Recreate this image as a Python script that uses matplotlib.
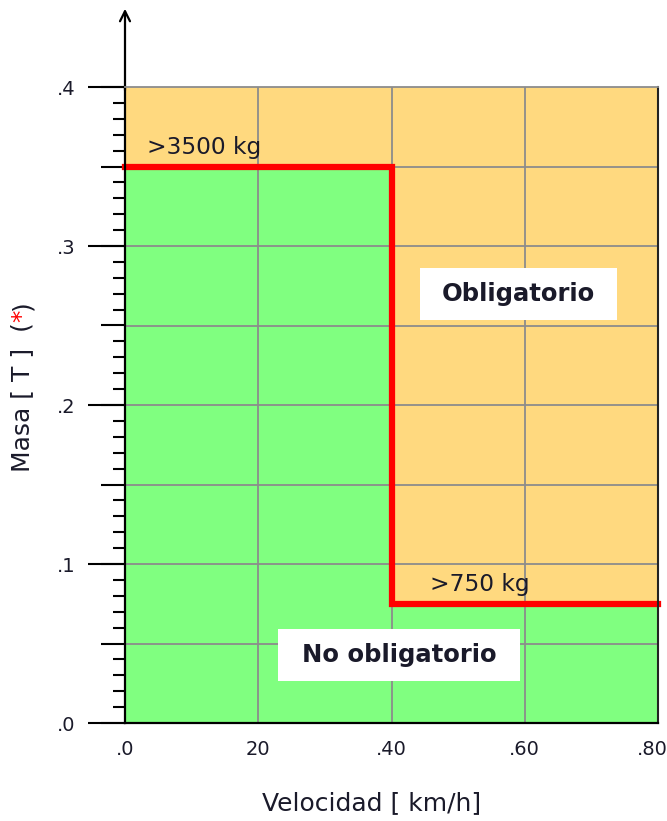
import numpy as np
import matplotlib.pyplot as plt
from matplotlib.patches import Rectangle
from matplotlib.transforms import ScaledTranslation
from matplotlib.ticker import FixedLocator, MultipleLocator, NullFormatter

# data
speed_edges = [0, 40, 80]          # km/h
mass_limit = [0.35, 0.075]         # T, limit above which it is mandatory
limit_labels = [">3500 kg", ">750 kg"]
x_ticks = [0, 20, 40, 60, 80]
x_ticklabels = [".0", "20", ".40", ".60", ".80"]
y_ticks = [0.0, 0.1, 0.2, 0.3, 0.4]
y_ticklabels = [".0", ".1", ".2", ".3", ".4"]

green = "#80ff80"
orange = "#ffd97f"
txt = "#1a1a2a"

fig = plt.figure(figsize=(6.67, 8.21), dpi=100)
ax = fig.add_axes([125 / 667, 98 / 821, 533 / 667, 636 / 821])
ax.set_xlim(0, 80)
ax.set_ylim(0, 0.4)

# step curve built from the edges
x_step = speed_edges
y_step = mass_limit + [mass_limit[-1]]
ax.fill_between(x_step, 0, y_step, step="post", color=green, lw=0, zorder=0)
ax.fill_between(x_step, y_step, 0.4, step="post", color=orange, lw=0, zorder=0)

# grid
for gx in x_ticks[1:-1]:
    ax.axvline(gx, color="#8c8c8c", lw=1.3, zorder=1)
for gy in np.arange(0.05, 0.4, 0.05):
    ax.axhline(gy, color="#8c8c8c", lw=1.3, zorder=1)

ax.step(x_step, y_step, where="post", color="red", lw=4.5, zorder=3,
        solid_joinstyle="miter", clip_on=False)

ax.text(3.3, mass_limit[0] + 0.005, limit_labels[0], fontsize=16.8, color=txt,
        va="bottom", ha="left")
ax.text(45.8, mass_limit[1] + 0.005, limit_labels[1], fontsize=16.8, color=txt,
        va="bottom", ha="left")

t_obl = ax.text(59.1, 0.270, "Obligatorio", fontsize=17.5, fontweight="bold",
                color=txt, ha="center", va="center", zorder=5)
t_no = ax.text(41.1, 0.043, "No obligatorio", fontsize=17.5, fontweight="bold",
               color=txt, ha="center", va="center", zorder=5)

# spines
for s in ["left", "bottom"]:
    ax.spines[s].set_linewidth(1.6)
    ax.spines[s].set_color("black")
ax.spines["right"].set_linewidth(1.5)
ax.spines["right"].set_color("#222222")
ax.spines["top"].set_linewidth(1.3)
ax.spines["top"].set_color("#8c8c8c")
for s in ax.spines.values():
    s.set_zorder(5)

# x axis: labels only
ax.set_xticks(x_ticks)
ax.set_xticklabels(x_ticklabels, fontsize=14, color=txt)
ax.tick_params(axis="x", length=0, pad=12)
last = ax.get_xticklabels()[-1]
last.set_transform(last.get_transform() + ScaledTranslation(-4 / 72, 0, fig.dpi_scale_trans))

# y axis: half steps and minor steps on the main axis
ax.yaxis.set_major_locator(MultipleLocator(0.05))
ax.yaxis.set_minor_locator(MultipleLocator(0.01))
ax.yaxis.set_major_formatter(NullFormatter())
ax.tick_params(axis="y", which="major", length=17, width=1.5, color="black")
ax.tick_params(axis="y", which="minor", length=8.5, width=1.5, color="black")

sec = ax.secondary_yaxis("left")
sec.set_yticks(y_ticks)
sec.set_yticklabels(y_ticklabels, fontsize=14, color=txt)
sec.yaxis.set_minor_locator(FixedLocator([]))
sec.tick_params(axis="y", length=26.5, width=1.5, color="black", pad=9)
sec.spines["left"].set_visible(False)

# arrow on top of the y axis
ax.annotate("", xy=(0, 1.123), xytext=(0, 0.995), xycoords="axes fraction",
            arrowprops=dict(arrowstyle="->", lw=1.6, color="black",
                            mutation_scale=18, shrinkA=0, shrinkB=0),
            annotation_clip=False)

fig.text(372 / 667, 1 - 803 / 821, "Velocidad [ km/h]", fontsize=18, color=txt,
         ha="center", va="center")

fig.canvas.draw()
r = fig.canvas.get_renderer()
W, H = fig.bbox.width, fig.bbox.height

# white boxes behind the two region labels
for t, px, py in [(t_obl, 22, 14), (t_no, 24, 14)]:
    bb = t.get_window_extent(r)
    fig.patches.append(Rectangle(((bb.x0 - px) / W, (bb.y0 - py) / H),
                                 (bb.width + 2 * px) / W, (bb.height + 2 * py) / H,
                                 transform=fig.transFigure, fc="white", ec="none",
                                 zorder=4))
    t.remove()
    fig.texts.append(t)
    t.set_figure(fig)

# y label with red asterisk
t1 = fig.text(22 / 667, 1 - 472 / 821, "Masa [ T ]  (", fontsize=18, color=txt,
              rotation=90, ha="center", va="bottom")
bb = t1.get_window_extent(r)
t2 = fig.text(22 / 667, bb.y1 / H, "*", fontsize=18, color="red",
              rotation=90, ha="center", va="bottom")
bb2 = t2.get_window_extent(r)
fig.text(22 / 667, bb2.y1 / H, ")", fontsize=18, color=txt,
         rotation=90, ha="center", va="bottom")

fig.savefig("out.png", dpi=100)
